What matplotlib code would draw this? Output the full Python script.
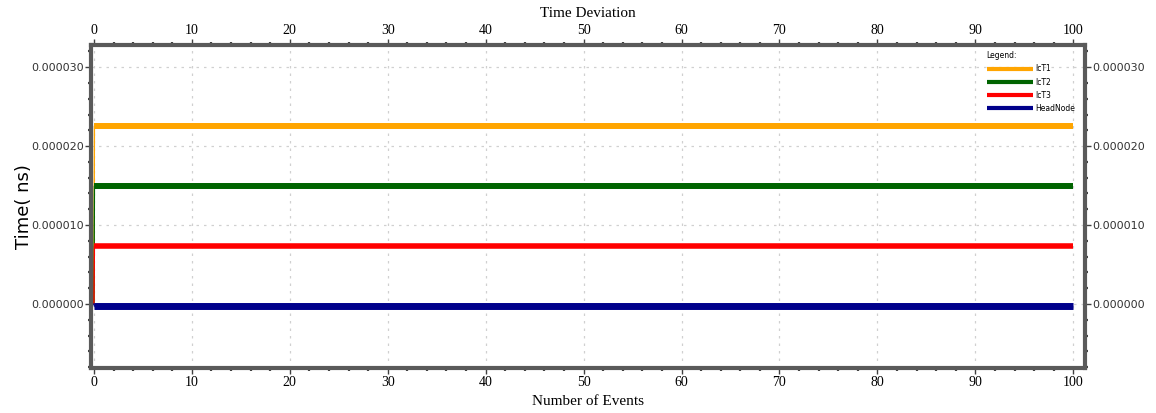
import matplotlib
matplotlib.use("Agg")
import matplotlib.pyplot as plt
from matplotlib.ticker import MultipleLocator, FormatStrFormatter

# Event index where each trace is sampled
events = [0, 0.05, 100]

# Time deviation per node (ns)
ict1 = [0, 2.25e-5, 2.25e-5]
ict2 = [0, 1.49e-5, 1.49e-5]
ict3 = [0, 0.73e-5, 0.73e-5]
headnode = [0, -0.025e-5, -0.025e-5]

series_names = ["IcT1", "IcT2", "IcT3", "HeadNode"]
series_colors = ["#FFA500", "#006400", "#FF0000", "#00008B"]
series_widths = [4.3, 4.3, 4.0, 5.0]

fig = plt.figure(figsize=(11.56, 4.13), dpi=100)
ax = fig.add_axes([0.0787, 0.109, 0.8599, 0.782])

for vals, name, col, lw in zip([ict1, ict2, ict3, headnode], series_names,
                               series_colors, series_widths):
    # initial rise drawn as a hairline, steady state as a heavy trace
    ax.plot(events[:2], vals[:2], color=col, lw=1.0)
    ax.plot(events[1:], vals[1:], color=col, lw=lw, label=name, solid_capstyle="butt")

ax.set_xlim(-0.3, 101.2)
ax.set_ylim(-0.81e-5, 3.28e-5)

ax.xaxis.set_major_locator(MultipleLocator(10))
ax.xaxis.set_minor_locator(MultipleLocator(2))
ax.yaxis.set_major_locator(MultipleLocator(1e-5))
ax.yaxis.set_minor_locator(MultipleLocator(2e-6))
ax.yaxis.set_major_formatter(FormatStrFormatter("%.6f"))

ax.grid(True, which="major", color="#d0d0d0", linestyle=(0, (2, 4)), lw=0.9)

spine_col = "#5a5a5a"
for s in ax.spines.values():
    s.set_color(spine_col)
    s.set_linewidth(3.0)

ax.tick_params(which="both", top=True, right=True, labeltop=True, labelright=True,
               direction="out", color="#404040")
ax.tick_params(which="major", length=4, width=1.0)
ax.tick_params(which="minor", length=2.5, width=1.6)
ax.tick_params(axis="x", which="major", labelsize=10, pad=2)
ax.tick_params(axis="y", which="major", labelsize=8, pad=1, labelcolor="#333333")
for lab in ax.get_xticklabels():
    lab.set_fontfamily("Liberation Serif")

ax.set_xlabel("Number of Events", fontfamily="Liberation Serif", fontsize=11, labelpad=4)
ax.set_ylabel("Time( ns)", fontsize=13)
ax.yaxis.set_label_coords(-0.058, 0.5)
ax.set_title("Time Deviation", fontfamily="Liberation Serif", fontsize=11, pad=20)

leg = ax.legend(loc="upper right", bbox_to_anchor=(0.995, 0.995), frameon=False,
                title="Legend:", fontsize=5.5, title_fontsize=5.5, handlelength=6,
                handletextpad=0.4, labelspacing=0.55, borderaxespad=0.2)
leg._legend_box.align = "left"
for h in leg.get_lines():
    h.set_linewidth(3)

fig.savefig("out.png", dpi=100, facecolor="white")
